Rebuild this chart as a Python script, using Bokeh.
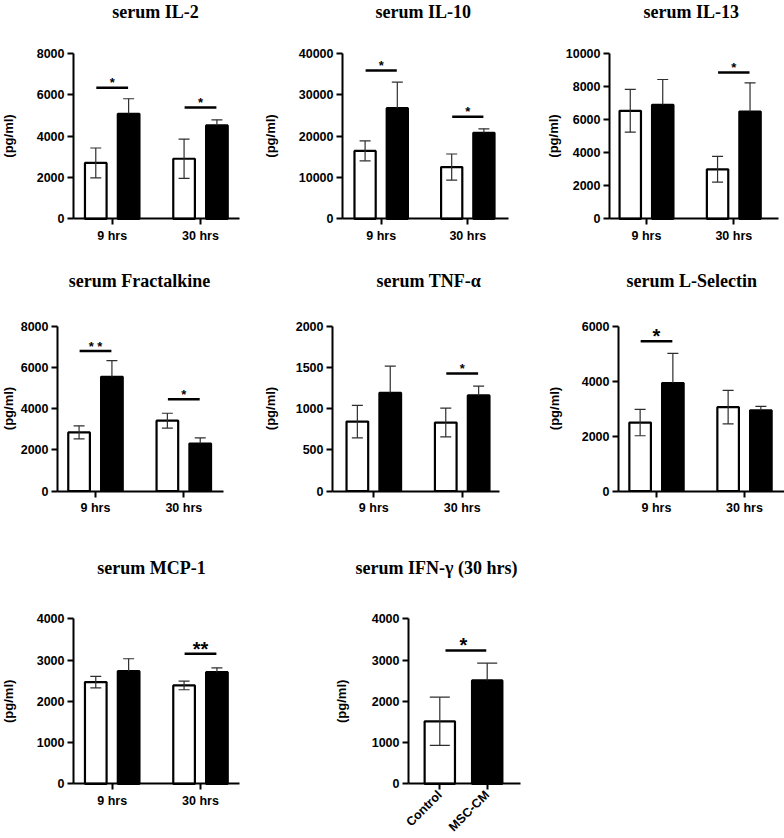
import math
import numpy as np
from bokeh.plotting import figure
from bokeh.layouts import column, row
from bokeh.models import (ColumnDataSource, Whisker, TeeHead, FixedTicker, Range1d,
                          NumeralTickFormatter)
from bokeh.core.properties import value
from bokeh.embed import file_html
from bokeh.resources import INLINE

SANS = "Liberation Sans"
SERIF = "Liberation Serif"
EB = "#2e2e2e"

times = ["9 hrs", "30 hrs"]

# ---------------- data (means and SD, pg/ml) ----------------
il2_ctrl = [2700, 2900]
il2_ctrl_sd = [720, 950]
il2_msc = [5070, 4510]
il2_msc_sd = [730, 270]
il2_sig_at = ["9 hrs", "30 hrs"]
il2_sig_y = [6330, 5380]
il2_sig = ["*", "*"]
il2_yticks = [0, 2000, 4000, 6000, 8000]

il10_ctrl = [16400, 12500]
il10_ctrl_sd = [2400, 3150]
il10_msc = [26720, 20765]
il10_msc_sd = [6280, 970]
il10_sig_at = ["9 hrs", "30 hrs"]
il10_sig_y = [35815, 24628]
il10_sig = ["*", "*"]
il10_yticks = [0, 10000, 20000, 30000, 40000]

il13_ctrl = [6520, 2990]
il13_ctrl_sd = [1290, 775]
il13_msc = [6881, 6479]
il13_msc_sd = [1530, 1730]
il13_sig_at = ["30 hrs"]
il13_sig_y = [8833]
il13_sig = ["*"]
il13_yticks = [0, 2000, 4000, 6000, 8000, 10000]

frac_ctrl = [2840, 3410]
frac_ctrl_sd = [316, 360]
frac_msc = [5538, 2300]
frac_msc_sd = [780, 275]
frac_sig_at = ["9 hrs", "30 hrs"]
frac_sig_y = [6785, 4453]
frac_sig = ["* *", "*"]
frac_yticks = [0, 2000, 4000, 6000, 8000]

tnf_ctrl = [841, 830]
tnf_ctrl_sd = [197, 175]
tnf_msc = [1191, 1159]
tnf_msc_sd = [322, 113]
tnf_sig_at = ["30 hrs"]
tnf_sig_y = [1425]
tnf_sig = ["*"]
tnf_yticks = [0, 500, 1000, 1500, 2000]

lsel_ctrl = [2490, 3050]
lsel_ctrl_sd = [480, 610]
lsel_msc = [3927, 2933]
lsel_msc_sd = [1080, 146]
lsel_sig_at = ["9 hrs"]
lsel_sig_y = [5442]
lsel_sig = ["*"]
lsel_yticks = [0, 2000, 4000, 6000]

mcp_ctrl = [2465, 2385]
mcp_ctrl_sd = [140, 105]
mcp_msc = [2731, 2707]
mcp_msc_sd = [300, 105]
mcp_sig_at = ["30 hrs"]
mcp_sig_y = [3152]
mcp_sig = ["**"]
mcp_yticks = [0, 1000, 2000, 3000, 4000]

ifn_groups = ["Control", "MSC-CM"]
ifn_mean = [1515, 2505]
ifn_sd = [585, 420]
ifn_sig_y = [3232]
ifn_sig = ["*"]
ifn_yticks = [0, 1000, 2000, 3000, 4000]

Y_LABEL = "(pg/ml)"


class Geo:
    """Pixel layout of one panel -> data coordinates."""
    def __init__(self, box, ybot, ytop, L, R, ticks, title_x, title_y, label_x, star, sy=-5, xls=4):
        self.box, self.ybot, self.ytop = box, ybot, ytop
        self.L, self.R, self.ticks = L, R, ticks
        self.title_x, self.title_y, self.label_x = title_x, title_y, label_x
        self.star, self.sy, self.xls = star, sy, xls

    def xd(self, px):
        t1, t2 = self.ticks
        return 1 + (px - t1) / (t2 - t1)

    def yd(self, py, ymax):
        return ymax * (self.ybot - py) / (self.ybot - self.ytop)


def base_fig(geo, yticks):
    ymax = yticks[-1]
    x0, x1, y0, y1 = geo.box
    p = figure(width=x1 - x0, height=y1 - y0,
               x_range=Range1d(geo.xd(x0), geo.xd(x1)),
               y_range=Range1d(geo.yd(y1, ymax), geo.yd(y0, ymax)),
               output_backend="svg", toolbar_location=None,
               min_border_left=0, min_border_right=0,
               min_border_top=0, min_border_bottom=0)
    p.grid.visible = False
    p.outline_line_color = None
    p.background_fill_color = "white"
    p.border_fill_color = "white"
    for ax in (p.xaxis[0], p.yaxis[0]):
        ax.axis_line_width = 2
        ax.axis_line_color = "black"
        ax.major_tick_line_width = 2
        ax.major_tick_line_color = "black"
        ax.major_tick_in = 0
        ax.major_tick_out = 6
        ax.minor_tick_line_color = None
        ax.major_label_text_font = SANS
        ax.major_label_text_font_style = "bold"
        ax.major_label_text_font_size = "12.5px"
        ax.major_label_text_color = "black"
    p.yaxis.fixed_location = geo.xd(geo.L)
    p.yaxis.bounds = (yticks[0], ymax)
    p.yaxis.ticker = FixedTicker(ticks=yticks)
    p.yaxis.formatter = NumeralTickFormatter(format="0")
    p.yaxis.major_label_standoff = 3
    p.xaxis.fixed_location = 0
    p.xaxis.bounds = (geo.xd(geo.L), geo.xd(geo.R))
    p.xaxis.major_label_standoff = geo.xls
    # y-axis label
    p.text(x=[geo.xd(geo.label_x)], y=[ymax / 2], text=[Y_LABEL], angle=math.pi / 2,
           text_align="center", text_baseline="middle",
           text_font=value(SANS), text_font_style="bold",
           text_font_size="13px", text_color="black")
    return p


def add_title(p, title, geo, yticks):
    p.text(x=[geo.xd(geo.title_x)], y=[geo.yd(geo.title_y, yticks[-1])], text=[title],
           text_align="left", text_baseline="middle",
           text_font=value(SERIF), text_font_style="bold",
           text_font_size="18px", text_color="black")


def add_sig(p, sx, sig_y, sig_txt, geo, x0off, x1off):
    sx = np.asarray(sx, dtype=float)
    p.segment(x0=sx + x0off, y0=sig_y, x1=sx + x1off, y1=sig_y,
              line_width=2.5, line_color="black")
    p.text(x=sx, y=sig_y, text=sig_txt, text_align="center", text_baseline="middle",
           text_font=value(SANS), text_font_style="bold",
           text_font_size=geo.star, text_color="black", y_offset=geo.sy)


def add_whiskers(p, src_c, src_m, cap):
    p.add_layout(Whisker(base="x", upper="hi", lower="lo", source=src_c, level="overlay",
                         line_color=EB, line_width=1.2,
                         upper_head=TeeHead(size=cap, line_color=EB, line_width=1.2),
                         lower_head=TeeHead(size=cap, line_color=EB, line_width=1.2)))
    p.add_layout(Whisker(base="x", upper="hi", lower="lo", source=src_m, level="overlay",
                         line_color=EB, line_width=1.2,
                         upper_head=TeeHead(size=cap, line_color=EB, line_width=1.2),
                         lower_head=None))


def grouped_panel(title, cats, ctrl, ctrl_sd, msc, msc_sd, sig_at, sig_y, sig_txt, yticks, geo):
    p = base_fig(geo, yticks)
    pos = {c: i + 1 for i, c in enumerate(cats)}
    xs = np.array([pos[c] for c in cats], dtype=float)
    off, bw = 0.186, 0.245
    ctrl = np.asarray(ctrl, float)
    msc = np.asarray(msc, float)
    src_c = ColumnDataSource(dict(x=xs - off, top=ctrl, lo=ctrl - np.asarray(ctrl_sd), hi=ctrl + np.asarray(ctrl_sd)))
    src_m = ColumnDataSource(dict(x=xs + off, top=msc, lo=msc, hi=msc + np.asarray(msc_sd)))
    p.vbar(x="x", top="top", bottom=0, width=bw, source=src_c,
           fill_color="white", line_color="black", line_width=2.2)
    p.vbar(x="x", top="top", bottom=0, width=bw, source=src_m,
           fill_color="black", line_color="black", line_width=2.2)
    add_whiskers(p, src_c, src_m, 11)
    p.xaxis.ticker = FixedTicker(ticks=list(pos.values()))
    p.xaxis.major_label_overrides = {v: k for k, v in pos.items()}
    add_sig(p, [pos[c] for c in sig_at], sig_y, sig_txt, geo, -0.18, 0.18)
    add_title(p, title, geo, yticks)
    return p


def single_panel(title, groups, mean, sd, sig_y, sig_txt, yticks, geo):
    p = base_fig(geo, yticks)
    pos = {g: i + 1 for i, g in enumerate(groups)}
    xs = np.array([pos[g] for g in groups], dtype=float)
    mean = np.asarray(mean, float)
    sd = np.asarray(sd, float)
    src_c = ColumnDataSource(dict(x=xs[:1], top=mean[:1], lo=mean[:1] - sd[:1], hi=mean[:1] + sd[:1]))
    src_m = ColumnDataSource(dict(x=xs[1:], top=mean[1:], lo=mean[1:], hi=mean[1:] + sd[1:]))
    p.vbar(x="x", top="top", bottom=0, width=0.64, source=src_c,
           fill_color="white", line_color="black", line_width=2.2)
    p.vbar(x="x", top="top", bottom=0, width=0.64, source=src_m,
           fill_color="black", line_color="black", line_width=2.2)
    add_whiskers(p, src_c, src_m, 20)
    p.xaxis.ticker = FixedTicker(ticks=list(pos.values()))
    p.xaxis.major_label_overrides = {v: k for k, v in pos.items()}
    p.xaxis.major_label_orientation = math.pi / 4
    mid = (xs[0] + xs[1]) / 2
    add_sig(p, [mid], sig_y, sig_txt, geo, -0.38, 0.48)
    add_title(p, title, geo, yticks)
    return p


# pixel layout: figure box (x0, x1, y0, y1), axis y-pixels of 0 and of the top tick,
# axis x extent, category tick x-pixels, title left/middle, y-label centre
G = {
    "il2":  Geo((0, 260, 0, 265), 218.3, 52.7, 73, 239, (111.7, 200), 111.7, 11, 8, "13px"),
    "il10": Geo((260, 520, 0, 265), 218.3, 52.7, 342, 508, (380.7, 467.3), 375, 11, 270, "13px"),
    "il13": Geo((520, 784, 0, 265), 218.3, 52.7, 609, 778, (646, 733.3), 643, 11, 553, "13px"),
    "frac": Geo((0, 260, 265, 548), 490.5, 325.5, 57, 223, (95, 183.3), 68.3, 280.4, 7.5, "13px"),
    "tnf":  Geo((260, 520, 265, 548), 490.5, 325.5, 332, 499, (373.3, 461.7), 376, 280.4, 270, "13px"),
    "lsel": Geo((520, 784, 265, 548), 490.5, 325.5, 618, 784, (656, 744), 626, 280.4, 553.5, "20px"),
    "mcp":  Geo((0, 330, 548, 838), 783.3, 618.3, 73, 239, (111.7, 200), 96.7, 567, 8, "20px"),
    "ifn":  Geo((330, 784, 548, 838), 783.3, 618.3, 408, 520, (439.3, 486.7), 355, 567, 341, "20px", xls=3),
}

p1 = grouped_panel("serum IL-2", times, il2_ctrl, il2_ctrl_sd, il2_msc, il2_msc_sd,
                   il2_sig_at, il2_sig_y, il2_sig, il2_yticks, G["il2"])
p2 = grouped_panel("serum IL-10", times, il10_ctrl, il10_ctrl_sd, il10_msc, il10_msc_sd,
                   il10_sig_at, il10_sig_y, il10_sig, il10_yticks, G["il10"])
p3 = grouped_panel("serum IL-13", times, il13_ctrl, il13_ctrl_sd, il13_msc, il13_msc_sd,
                   il13_sig_at, il13_sig_y, il13_sig, il13_yticks, G["il13"])
p4 = grouped_panel("serum Fractalkine", times, frac_ctrl, frac_ctrl_sd, frac_msc, frac_msc_sd,
                   frac_sig_at, frac_sig_y, frac_sig, frac_yticks, G["frac"])
p5 = grouped_panel("serum TNF-\u03b1", times, tnf_ctrl, tnf_ctrl_sd, tnf_msc, tnf_msc_sd,
                   tnf_sig_at, tnf_sig_y, tnf_sig, tnf_yticks, G["tnf"])
p6 = grouped_panel("serum L-Selectin", times, lsel_ctrl, lsel_ctrl_sd, lsel_msc, lsel_msc_sd,
                   lsel_sig_at, lsel_sig_y, lsel_sig, lsel_yticks, G["lsel"])
p7 = grouped_panel("serum MCP-1", times, mcp_ctrl, mcp_ctrl_sd, mcp_msc, mcp_msc_sd,
                   mcp_sig_at, mcp_sig_y, mcp_sig, mcp_yticks, G["mcp"])
p8 = single_panel("serum IFN-\u03b3 (30 hrs)", ifn_groups, ifn_mean, ifn_sd,
                  ifn_sig_y, ifn_sig, ifn_yticks, G["ifn"])

layout = column(row(p1, p2, p3), row(p4, p5, p6), row(p7, p8))

with open("out.html", "w") as f:
    f.write(file_html(layout, INLINE))
